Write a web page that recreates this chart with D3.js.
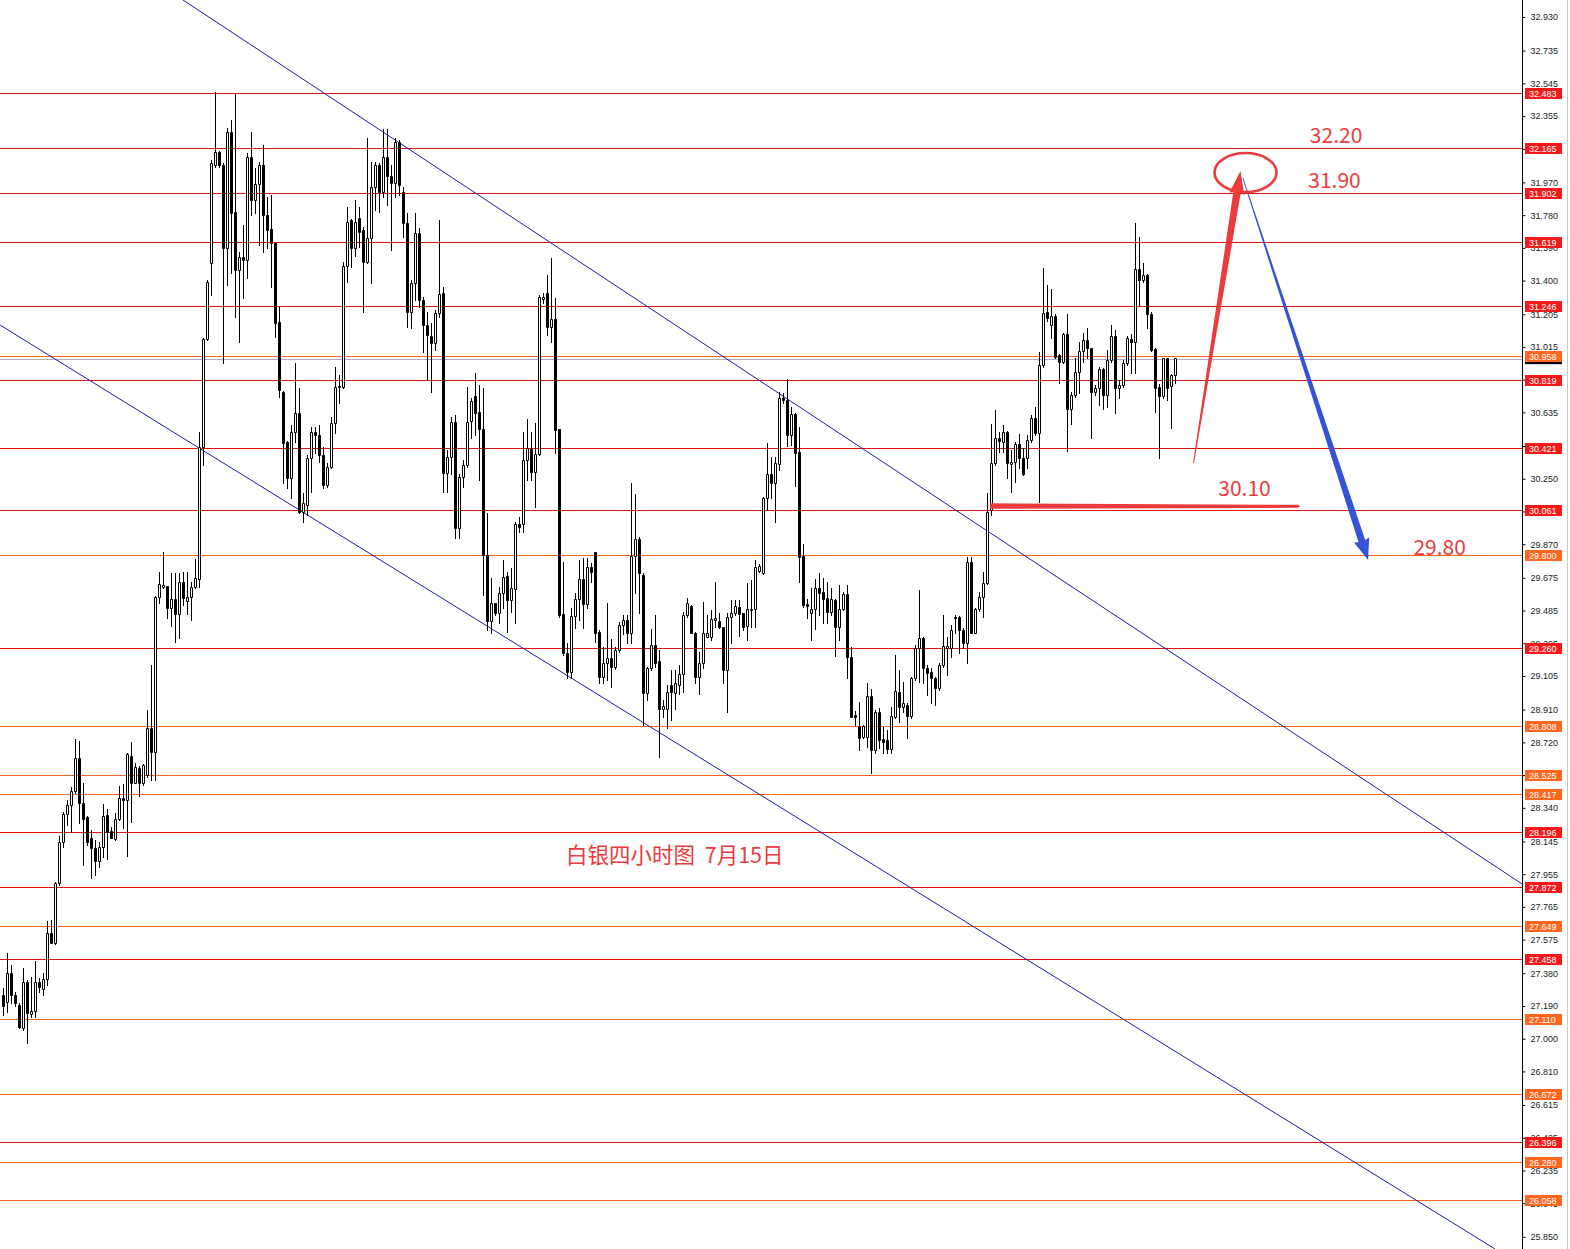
<!DOCTYPE html>
<html><head><meta charset="utf-8">
<script src="https://cdn.jsdelivr.net/npm/d3@7"></script>
<style>html,body{margin:0;padding:0;background:#fff;overflow:hidden}</style>
</head><body><svg id="c" width="1570" height="1249"></svg>
<script>
// ---- data: silver 4H candles (OHLC) ----
const openP = [
27.254,27.215,27.379,27.254,27.196,27.060,27.331,27.142,27.161,27.331,
27.287,27.345,27.616,27.558,27.906,28.144,28.303,28.357,28.440,28.628,
28.370,28.289,28.167,28.105,28.033,28.111,28.297,28.206,28.160,28.274,
28.399,28.386,28.643,28.486,28.573,28.482,28.531,28.806,28.662,29.562,
29.624,29.630,29.498,29.551,29.465,29.650,29.543,29.562,29.624,29.670,
30.436,31.059,31.500,32.071,32.148,32.071,31.587,32.264,31.800,31.461,
31.539,31.519,32.119,31.868,31.958,32.071,31.780,31.699,31.616,31.162,
30.755,30.465,30.252,30.523,30.629,30.059,30.097,30.368,30.523,30.504,
30.388,30.214,30.320,30.571,30.780,30.784,31.487,31.752,31.590,31.761,
31.693,31.510,31.645,31.945,32.071,31.916,32.119,32.007,31.965,32.206,
31.916,31.732,31.220,31.388,31.674,31.290,31.142,31.078,31.040,31.210,
31.326,30.281,30.378,30.581,29.962,30.262,30.330,30.586,30.733,30.636,
30.539,29.808,29.427,29.527,29.469,29.585,29.686,29.547,29.609,29.988,
29.988,30.359,30.421,30.291,30.394,31.293,31.326,31.133,31.176,30.537,
29.463,29.237,29.131,29.454,29.551,29.667,29.523,29.740,29.827,29.363,
29.102,29.179,29.208,29.160,29.256,29.401,29.430,29.357,29.802,29.899,
29.692,29.009,29.150,29.285,29.193,28.912,28.912,29.050,29.009,29.053,
29.117,29.459,29.512,29.357,29.098,29.179,29.334,29.334,29.430,29.427,
29.388,29.140,29.450,29.473,29.508,29.469,29.396,29.488,29.492,29.717,
29.705,30.137,30.277,30.223,30.335,30.717,30.707,30.504,30.626,30.407,
29.801,29.521,29.473,29.492,29.614,29.594,29.556,29.478,29.546,29.387,
29.492,29.581,29.213,28.879,28.815,28.749,28.749,28.989,28.676,28.898,
28.737,28.734,28.680,28.869,29.014,28.927,28.937,28.873,29.092,29.266,
29.324,29.153,29.130,29.092,29.034,29.169,29.266,29.266,29.450,29.446,
29.372,29.295,29.769,29.357,29.492,29.566,29.643,30.069,30.340,30.485,
30.465,30.524,30.334,30.345,30.450,30.369,30.369,30.475,30.605,30.514,
30.910,31.216,31.142,31.197,30.968,30.930,31.088,30.653,30.736,30.868,
30.992,31.056,31.007,30.752,30.775,30.887,30.736,30.939,31.081,30.779,
30.794,30.920,31.061,31.042,31.468,31.404,31.433,31.204,31.003,30.785,
30.732,30.949,30.790,30.852];
const highP = [
27.293,27.496,27.428,27.270,27.205,27.409,27.340,27.360,27.453,27.350,
27.379,27.683,27.690,27.912,28.177,28.318,28.386,28.463,28.738,28.728,
28.482,28.290,28.212,28.154,28.144,28.360,28.332,28.230,28.308,28.467,
28.477,28.660,28.724,28.598,28.580,28.594,28.908,29.169,29.570,29.711,
29.823,29.630,29.705,29.705,29.700,29.710,29.710,29.653,29.783,30.520,
31.065,31.403,32.100,32.496,32.150,32.080,32.283,32.332,32.481,31.568,
31.722,32.138,32.264,32.051,32.090,32.187,31.887,31.897,31.620,31.248,
30.760,30.470,30.562,30.920,30.775,30.165,30.388,30.552,30.552,30.562,
30.436,30.340,30.610,30.900,30.850,31.510,31.829,31.760,31.868,31.825,
31.713,32.226,32.090,32.090,32.080,32.278,32.278,32.070,32.226,32.216,
31.945,31.790,31.403,31.790,31.703,31.306,31.220,31.152,31.230,31.752,
31.365,30.417,30.610,30.620,30.280,30.360,30.784,30.717,30.866,30.794,
30.775,30.050,29.673,29.530,29.624,29.779,29.711,29.730,30.001,30.030,
30.524,30.597,30.524,30.572,31.317,31.326,31.433,31.530,31.297,30.540,
29.769,29.295,29.498,29.585,29.779,29.788,29.788,29.760,29.827,29.373,
29.276,29.527,29.320,29.276,29.421,29.460,29.460,30.227,30.162,29.914,
29.701,29.160,29.376,29.459,29.256,28.966,29.053,29.140,29.140,29.169,
29.479,29.556,29.517,29.360,29.247,29.537,29.459,29.488,29.653,29.469,
29.392,29.469,29.546,29.546,29.546,29.473,29.643,29.663,29.779,29.755,
30.146,30.460,30.374,30.374,30.755,30.746,30.827,30.668,30.630,30.548,
29.871,29.550,29.614,29.666,29.701,29.672,29.653,29.614,29.550,29.633,
29.594,29.633,29.275,28.904,28.956,28.821,29.062,29.028,28.908,28.917,
28.811,28.792,28.927,29.227,29.140,29.072,28.946,29.101,29.285,29.604,
29.333,29.169,29.150,29.101,29.179,29.459,29.333,29.401,29.459,29.453,
29.382,29.798,29.798,29.498,29.595,29.711,30.166,30.566,30.649,30.524,
30.562,30.527,30.417,30.465,30.508,30.427,30.504,30.620,30.669,30.988,
31.475,31.375,31.352,31.204,30.972,31.094,31.204,30.756,30.953,31.046,
31.094,31.127,31.011,30.794,30.901,30.890,30.997,31.142,31.114,30.823,
30.939,31.081,31.088,31.733,31.655,31.500,31.437,31.220,31.007,30.798,
30.953,30.953,30.856,30.953];
const lowP = [
27.138,27.157,27.205,27.190,27.060,27.050,26.977,27.128,27.128,27.273,
27.254,27.312,27.554,27.550,27.893,28.115,28.241,28.202,28.424,28.254,
28.008,28.125,27.935,27.950,27.999,28.057,28.041,28.163,28.154,28.270,
28.221,28.060,28.260,28.482,28.409,28.472,28.521,28.502,28.502,29.527,
29.614,29.444,29.398,29.305,29.324,29.517,29.465,29.430,29.614,29.620,
30.330,31.055,31.316,32.060,32.060,30.920,31.374,31.442,31.190,31.045,
31.297,31.413,31.780,31.790,31.606,31.568,31.587,31.365,31.074,30.726,
30.223,30.194,30.136,30.465,30.050,30.000,30.040,30.175,30.400,30.349,
30.195,30.200,30.310,30.514,30.688,30.775,31.394,31.480,31.540,31.597,
31.220,31.500,31.384,31.810,31.800,31.887,31.840,31.578,31.887,31.897,
31.655,31.132,31.123,31.288,31.249,30.987,30.823,30.755,30.997,31.190,
30.175,30.175,30.280,29.904,29.904,30.200,30.320,30.485,30.504,30.243,
29.576,29.372,29.353,29.460,29.411,29.498,29.363,29.479,29.415,29.943,
29.943,30.243,30.243,30.088,30.388,31.270,31.085,31.046,30.398,29.450,
29.227,29.092,29.092,29.382,29.430,29.382,29.498,29.653,29.305,29.063,
29.063,29.082,29.043,29.144,29.247,29.350,29.295,29.295,29.585,29.469,
28.821,28.966,29.140,29.160,28.633,28.869,28.802,28.850,28.912,29.001,
29.015,29.450,29.353,29.063,29.001,29.150,29.330,29.314,29.392,29.382,
29.063,28.898,29.295,29.459,29.340,29.372,29.314,29.392,29.392,29.711,
29.697,30.070,30.136,30.001,30.301,30.688,30.440,30.446,30.208,29.652,
29.507,29.440,29.314,29.376,29.459,29.410,29.410,29.459,29.221,29.314,
29.488,29.092,28.865,28.821,28.676,28.743,28.695,28.544,28.660,28.685,
28.656,28.656,28.656,28.860,28.840,28.898,28.743,28.860,29.082,29.072,
29.062,28.995,28.946,28.937,29.024,29.160,29.111,29.217,29.353,29.237,
29.266,29.179,29.353,29.353,29.480,29.450,29.639,30.040,30.330,30.407,
30.407,30.253,30.175,30.233,30.311,30.272,30.311,30.465,30.504,30.117,
30.900,31.166,31.065,30.953,30.804,30.920,30.411,30.566,30.727,30.746,
30.930,30.949,30.489,30.736,30.678,30.655,30.669,30.930,30.630,30.717,
30.785,30.910,30.862,30.862,31.259,31.394,31.127,30.992,30.640,30.369,
30.717,30.707,30.543,30.804];
const closeP = [
27.190,27.379,27.254,27.205,27.066,27.331,27.148,27.161,27.331,27.302,
27.345,27.616,27.558,27.906,28.144,28.303,28.357,28.438,28.628,28.370,
28.273,28.144,28.105,28.033,28.111,28.293,28.202,28.167,28.274,28.395,
28.386,28.653,28.482,28.579,28.486,28.587,28.806,28.662,29.562,29.640,
29.634,29.498,29.551,29.465,29.650,29.556,29.562,29.624,29.672,30.436,
31.059,31.394,32.080,32.148,32.071,31.587,32.264,31.790,31.461,31.539,
31.519,32.119,31.868,31.958,32.071,31.780,31.693,31.616,31.152,30.765,
30.455,30.252,30.523,30.629,30.059,30.107,30.368,30.523,30.504,30.388,
30.214,30.320,30.571,30.784,30.790,31.487,31.742,31.587,31.742,31.684,
31.510,31.645,31.945,32.071,31.916,32.119,32.007,31.965,32.206,31.955,
31.732,31.220,31.388,31.674,31.287,31.142,31.084,31.036,31.210,31.322,
30.281,30.378,30.581,29.962,30.262,30.330,30.581,30.702,30.634,30.539,
29.808,29.427,29.527,29.469,29.585,29.682,29.547,29.614,29.988,29.972,
30.359,30.427,30.291,30.394,31.303,31.303,31.133,31.176,30.533,29.460,
29.237,29.131,29.454,29.551,29.667,29.523,29.740,29.710,29.357,29.102,
29.179,29.208,29.160,29.256,29.401,29.430,29.357,29.802,29.899,29.701,
29.009,29.150,29.285,29.183,28.912,28.931,29.015,29.010,29.063,29.117,
29.459,29.531,29.357,29.101,29.179,29.353,29.353,29.434,29.440,29.388,
29.140,29.450,29.473,29.512,29.465,29.392,29.492,29.492,29.736,29.744,
30.137,30.278,30.223,30.343,30.717,30.707,30.504,30.626,30.401,29.794,
29.517,29.511,29.492,29.614,29.589,29.550,29.478,29.550,29.391,29.492,
29.581,29.213,28.869,28.869,28.743,28.815,28.989,28.676,28.898,28.734,
28.724,28.680,28.873,29.020,28.927,28.950,28.873,29.092,29.266,29.324,
29.150,29.121,29.092,29.034,29.169,29.279,29.279,29.372,29.440,29.372,
29.295,29.769,29.357,29.492,29.566,29.643,30.059,30.340,30.485,30.469,
30.524,30.340,30.349,30.450,30.369,30.276,30.475,30.605,30.514,30.910,
31.210,31.185,31.197,30.959,30.930,31.088,30.653,30.736,30.868,30.992,
31.056,31.011,30.756,30.779,30.887,30.736,30.939,31.081,30.779,30.794,
30.920,31.065,31.042,31.468,31.404,31.433,31.204,30.997,30.779,30.732,
30.949,30.775,30.852,30.949];

// horizontal levels ('r' red / 'o' orange)
const levelValues = [32.483,32.165,31.902,31.619,31.246,30.958,30.819,30.421,30.061,29.800,29.260,28.808,28.525,28.417,28.196,27.872,27.649,27.458,27.110,26.672,26.396,26.280,26.058];
const levelKinds  = ['r','r','r','r','r','o','r','r','r','o','r','o','o','o','r','r','o','r','o','o','r','o','o'];
const bidPrice = 30.947;

// price axis ticks
const tickValues = [32.930,32.735,32.545,32.355,32.165,31.970,31.780,31.590,31.400,31.205,31.015,30.825,30.635,30.440,30.250,30.060,29.870,29.675,29.485,29.295,29.105,28.910,28.720,28.530,28.340,28.145,27.955,27.765,27.575,27.380,27.190,27.000,26.810,26.615,26.425,26.235,26.045,25.850];

// channel lines: [candle index, price]
const upperChannel = [[44.9, 33.029],[379.7, 27.898]];
const lowerChannel = [[-0.8, 31.142],[372.9, 25.780]];

// annotations
const priceNotes = [
  {text:'32.20', i:333.2, p:32.199},
  {text:'31.90', i:332.8, p:31.937},
  {text:'30.10', i:310.3, p:30.150},
  {text:'29.80', i:359.1, p:29.808}
];
const titleNote = {text:'白银四小时图  7月15日', i:140.7, p:28.020};
const supportStroke = [[246.7, 30.090],[324.2, 30.090]];
const upArrow = [[297.55, 30.341],[309.3, 32.036]];
const downArrow = [[309.9, 31.995],[341.2, 29.778]];
const targetEllipse = {i:310.55, p:32.027};

// ---- drawing ----
const W = 1570, H = 1249, AXIS_X = 1522;
const svg = d3.select('#c');
svg.append('rect').attr('width', W).attr('height', H).attr('fill', '#fff');

const x = d3.scaleLinear().domain([0, closeP.length - 1]).range([3.3, 1175.3]);
const y = d3.scaleLinear().domain([32.483, 26.058]).range([94, 1201]);

const RED = '#e01212', ORANGE = '#f0641e';
const RED_BOX = '#f41a1a', ORANGE_BOX = '#ff661e';

svg.append('defs').append('clipPath').attr('id', 'plot')
  .append('rect').attr('x', 0).attr('y', 0).attr('width', AXIS_X).attr('height', H);

// bid line
svg.append('line').attr('x1', 0).attr('x2', AXIS_X)
  .attr('y1', Math.round(y(bidPrice)) + 0.5).attr('y2', Math.round(y(bidPrice)) + 0.5)
  .attr('stroke', '#b0b0c4').attr('stroke-width', 1);

// level lines
const levels = levelValues.map((v, k) => ({v, kind: levelKinds[k]}));
svg.append('g').selectAll('line').data(levels).join('line')
  .attr('x1', 0).attr('x2', AXIS_X)
  .attr('y1', d => Math.round(y(d.v)) - 0.5).attr('y2', d => Math.round(y(d.v)) - 0.5)
  .attr('stroke', d => d.kind === 'r' ? RED : ORANGE).attr('stroke-width', 1);

// channel lines
const pathGen = d3.line().x(d => x(d[0])).y(d => y(d[1]));
const chG = svg.append('g').attr('clip-path', 'url(#plot)');
[upperChannel, lowerChannel].forEach(c => {
  chG.append('path').attr('d', pathGen(c)).attr('fill', 'none')
    .attr('stroke', '#1c1ca8').attr('stroke-width', 1);
});

// candles
const candles = d3.range(closeP.length).map(i => ({i, o: openP[i], h: highP[i], l: lowP[i], c: closeP[i]}));
const cg = svg.append('g');
cg.selectAll('line').data(candles).join('line')
  .attr('x1', d => Math.floor(x(d.i)) + 0.5).attr('x2', d => Math.floor(x(d.i)) + 0.5)
  .attr('y1', d => Math.round(y(d.h))).attr('y2', d => Math.round(y(d.l)) + 1)
  .attr('stroke', '#000').attr('stroke-width', 1);
cg.selectAll('path').data(candles).join('path')
  .attr('d', d => {
    const a = Math.floor(x(d.i)) - 1;
    const yt = Math.round(y(Math.max(d.o, d.c)));
    const yb = Math.round(y(Math.min(d.o, d.c)));
    const hgt = Math.max(yb - yt, 0);
    return `M${a + 0.5},${yt + 0.5}h2v${hgt}h-2Z`;
  })
  .attr('fill', d => d.c >= d.o ? '#fff' : '#000')
  .attr('stroke', '#000').attr('stroke-width', 1);

// axis
svg.append('line').attr('x1', AXIS_X + 0.5).attr('x2', AXIS_X + 0.5).attr('y1', 0).attr('y2', H)
  .attr('stroke', '#000').attr('stroke-width', 1);
svg.append('line').attr('x1', W - 2.5).attr('x2', W - 2.5).attr('y1', 0).attr('y2', H)
  .attr('stroke', '#c8c8c8').attr('stroke-width', 1);
const axis = d3.axisRight(y).tickValues(tickValues).tickFormat(d3.format('.3f')).tickSize(3).tickPadding(5);
const ag = svg.append('g').attr('transform', `translate(${AXIS_X + 0.5},0)`).call(axis);
ag.select('.domain').remove();
ag.selectAll('.tick line').attr('stroke', '#000');
ag.selectAll('.tick text').attr('font-family', '"Liberation Sans", Arial, sans-serif')
  .attr('font-size', 9).attr('fill', '#222');
ag.attr('font-family', null).attr('font-size', null);

// bid marker (black) under current price box
svg.append('rect').attr('x', AXIS_X + 3).attr('width', 37)
  .attr('y', y(bidPrice) - 5.5).attr('height', 11).attr('fill', '#000');

// level boxes
const lb = svg.append('g').selectAll('g').data(levels).join('g')
  .attr('transform', d => `translate(${AXIS_X + 3},${Math.round(y(d.v)) - 0.5})`);
lb.append('rect').attr('x', 0).attr('y', -5.5).attr('width', 37).attr('height', 11)
  .attr('fill', d => d.kind === 'r' ? RED_BOX : ORANGE_BOX);
lb.append('text').attr('x', 4).attr('y', 3.5)
  .attr('font-family', '"Liberation Sans", Arial, sans-serif').attr('font-size', 9)
  .attr('fill', '#fff').text(d => d3.format('.3f')(d.v));

// ---- annotations ----
const ANN_RED = '#ec3b3d';
const ANN_BLUE = '#3553d6';
const annFont = '"Noto Sans CJK SC", "Noto Sans", sans-serif';

// support stroke (brush-like)
(function () {
  const p0 = [x(supportStroke[0][0]), y(supportStroke[0][1])];
  const p1 = [x(supportStroke[1][0]), y(supportStroke[1][1])];
  const pts = [[p0[0], p0[1] - 3], [p1[0] - 2, p1[1] - 1.5], [p1[0], p1[1]], [p1[0] - 2, p1[1] + 1.5], [p0[0], p0[1] + 2.5]];
  svg.append('path').attr('d', d3.line()(pts) + 'Z').attr('fill', ANN_RED);
})();

function taperArrow(a, b, w0, w1, headLen, headW, color) {
  const p0 = [x(a[0]), y(a[1])], p1 = [x(b[0]), y(b[1])];
  const dx = p1[0] - p0[0], dy = p1[1] - p0[1], L = Math.hypot(dx, dy);
  const ux = dx / L, uy = dy / L, nx = -uy, ny = ux;
  const hb = [p1[0] - ux * headLen, p1[1] - uy * headLen];
  const pts = [
    [p0[0] + nx * w0 / 2, p0[1] + ny * w0 / 2],
    [hb[0] + nx * w1 / 2, hb[1] + ny * w1 / 2],
    [hb[0] + nx * headW / 2 - ux * 1, hb[1] + ny * headW / 2 - uy * 1],
    p1,
    [hb[0] - nx * headW / 2 - ux * 1, hb[1] - ny * headW / 2 - uy * 1],
    [hb[0] - nx * w1 / 2, hb[1] - ny * w1 / 2],
    [p0[0] - nx * w0 / 2, p0[1] - ny * w0 / 2]
  ];
  svg.append('path').attr('d', d3.line()(pts) + 'Z').attr('fill', color);
}
taperArrow(downArrow[0], downArrow[1], 0.8, 7, 20, 16, ANN_BLUE);
taperArrow(upArrow[0], upArrow[1], 1, 7.5, 22, 15, ANN_RED);

svg.append('ellipse').attr('cx', x(targetEllipse.i)).attr('cy', y(targetEllipse.p))
  .attr('rx', 31).attr('ry', 19.5).attr('fill', 'none')
  .attr('stroke', ANN_RED).attr('stroke-width', 2.6);

svg.append('g').selectAll('text').data(priceNotes).join('text')
  .attr('x', d => x(d.i)).attr('y', d => y(d.p))
  .attr('text-anchor', 'middle').attr('font-family', annFont).attr('font-size', 21)
  .attr('fill', ANN_RED).text(d => d.text);

svg.append('text').attr('x', x(titleNote.i)).attr('y', y(titleNote.p))
  .attr('font-family', annFont).attr('font-size', 21.5).attr('fill', ANN_RED)
  .style('white-space', 'pre').text(titleNote.text);
</script>
</body></html>
